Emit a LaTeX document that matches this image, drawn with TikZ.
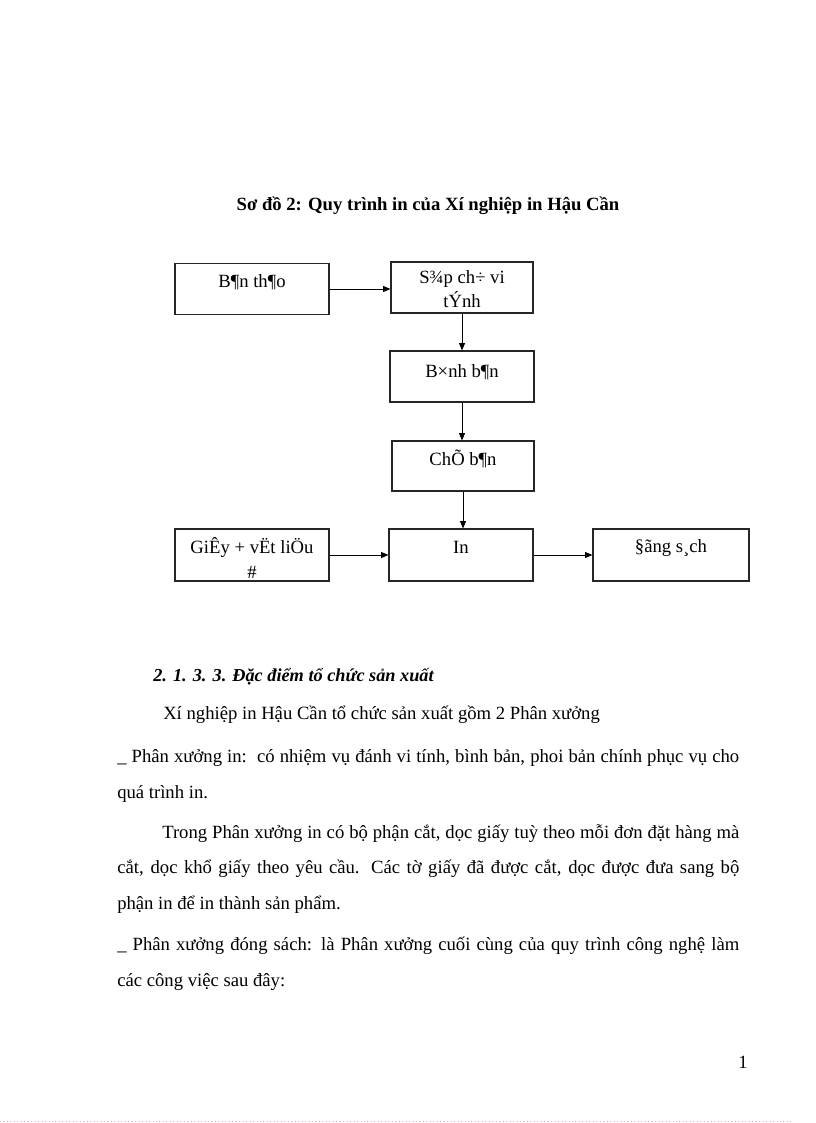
\documentclass[tikz,border=0pt]{standalone}
\usepackage{fontspec}
\setmainfont{Liberation Serif}
\usetikzlibrary{arrows.meta,calc}
\tikzset{
  box/.style={draw=black!85, line width=0.9pt, inner sep=0pt, fill=white},
  arr/.style={-{Triangle[length=5.5pt,width=4.5pt]}, line width=0.6pt, black},
  btxt/.style={font=\fontsize{14pt}{18pt}\selectfont, anchor=base, inner sep=0pt},
  body/.style={font=\fontsize{14pt}{18pt}\selectfont, anchor=base west, inner sep=0pt},
}
\begin{document}
\begin{tikzpicture}[x=0.75pt,y=-0.75pt]
\useasboundingbox (0,0) rectangle (816,1123);
\fill[white] (0,0) rectangle (816,1123);

% title
\node[btxt,font=\fontsize{14pt}{18pt}\selectfont\bfseries] (title) at (428,210) {Sơ đồ 2: Quy trình in của Xí nghiệp in Hậu Cần};

% boxes
\node[box, minimum width=115.5pt, minimum height=38.25pt] (b1) at (252,289) {};
\node[box, minimum width=106.5pt, minimum height=38.25pt] (b2) at (462,287.5) {};
\node[box, minimum width=108pt, minimum height=38.25pt] (b3) at (462,376.5) {};
\node[box, minimum width=106.5pt, minimum height=37.5pt] (b4) at (463,466) {};
\node[box, minimum width=115.5pt, minimum height=39pt] (b5) at (252,555) {};
\node[box, minimum width=108pt, minimum height=39pt] (b6) at (461,555) {};
\node[box, minimum width=117pt, minimum height=39pt] (b7) at (671,555) {};

% box texts
\node[btxt] (t1) at ($(b1.north)+(0,25)$) {B¶n th¶o};
\node[btxt] (t2a) at ($(b2.north)+(0,22)$) {S¾p ch÷ vi};
\node[btxt] (t2b) at ($(b2.north)+(0,46)$) {tÝnh};
\node[btxt] (t3) at ($(b3.north)+(0,27)$) {B×nh b¶n};
\node[btxt] (t4) at ($(b4.north)+(0,25)$) {ChÕ b¶n};
\node[btxt] (t5a) at ($(b5.north)+(0,25)$) {GiÊy + vËt liÖu};
\node[btxt] (t5b) at ($(b5.north)+(0,50)$) {\#};
\node[btxt] (t6) at ($(b6.north)+(0,25)$) {In};
\node[btxt] (t7) at ($(b7.north)+(0,24)$) {§ãng s¸ch};

% connectors
\draw[arr] (b1.east) -- (b1.east -| b2.west);
\draw[arr] (b2.south) -- (b3.north);
\draw[arr] (b3.south) -- (b3.south |- b4.north);
\draw[arr] (b4.south) -- (b4.south |- b6.north);
\draw[arr] (b5.east) -- (b6.west);
\draw[arr] (b6.east) -- (b7.west);

% body text
\node[body,font=\fontsize{13.7pt}{18pt}\selectfont\bfseries\itshape] (h1) at (153,681) {2. 1. 3. 3. Đặc điểm tổ chức sản xuất};
\node[body] (p1) at (163,719) {Xí nghiệp in Hậu Cần tổ chức sản xuất gồm 2 Phân xưởng};
\node[body] (p2) at (117,762) {\makebox[466.5pt][s]{\_ Phân xưởng in:\ \ có nhiệm vụ đánh vi tính, bình bản, phoi bản chính phục vụ cho}};
\node[body] (p3) at (117,798) {quá trình in.};
\node[body] (p4) at (162,838) {\makebox[432.75pt][s]{Trong Phân xưởng in có bộ phận cắt, dọc giấy tuỳ theo mỗi đơn đặt hàng mà}};
\node[body] (p5) at (117,873) {\makebox[466.5pt][s]{cắt, dọc khổ giấy theo yêu cầu. Các tờ giấy đã được cắt, dọc được đưa sang bộ}};
\node[body] (p6) at (117,909) {phận in để in thành sản phẩm.};
\node[body] (p7) at (117,950) {\makebox[466.5pt][s]{\_ Phân xưởng đóng sách: là Phân xưởng cuối cùng của quy trình công nghệ làm}};
\node[body] (p8) at (117,986) {các công việc sau đây:};

% page number
\node[btxt] (pn) at (743,1068) {1};

% faint page edge
\draw[magenta!40, dotted, line width=0.6pt] (0,1121) -- (792,1121);
\end{tikzpicture}
\end{document}
